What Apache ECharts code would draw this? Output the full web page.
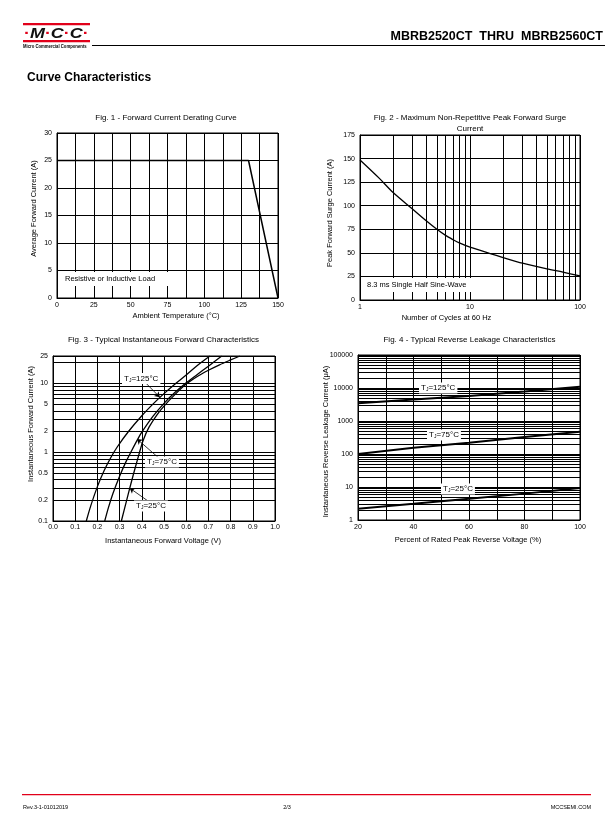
<!DOCTYPE html>
<html><head><meta charset="utf-8">
<script src="https://cdn.jsdelivr.net/npm/echarts@6/dist/echarts.min.js"></script>
<style>html,body{margin:0;padding:0;background:#fff}#c{width:612px;height:825px}</style>
</head><body><div id="c"></div><script>
// ---- Fig. 1 data ----
const fig1Temp = [0, 130, 150];
const fig1Current = [25, 25, 0];
const fig1XLabels = [0, 25, 50, 75, 100, 125, 150];
const fig1YLabels = [0, 5, 10, 15, 20, 25, 30];
// ---- Fig. 2 data ----
const fig2Cycles = [1, 1.5, 2, 3, 4, 5, 6, 7, 8, 10, 15, 20, 30, 50, 70, 100];
const fig2Surge = [148.5, 129, 114, 96.5, 84, 75, 68.5, 64, 60.5, 56, 49.5, 45, 39, 33, 29.5, 25.5];
const fig2XLabels = [1, 10, 100];
const fig2YLabels = [0, 25, 50, 75, 100, 125, 150, 175];
// ---- Fig. 3 data ----
const fig3V125 = [0.15, 0.17, 0.2, 0.23, 0.26, 0.29, 0.34, 0.4, 0.45, 0.5, 0.55, 0.6, 0.65, 0.707];
const fig3I125 = [0.1, 0.166, 0.316, 0.537, 0.83, 1.2, 2.0, 3.39, 5.0, 7.1, 9.8, 13.2, 18.2, 25];
const fig3V75 = [0.233, 0.25, 0.27, 0.3, 0.33, 0.354, 0.38, 0.4, 0.45, 0.5, 0.55, 0.6, 0.65, 0.7, 0.76];
const fig3I75 = [0.1, 0.158, 0.251, 0.447, 0.741, 1.05, 1.51, 1.95, 3.31, 5.13, 7.41, 10.2, 13.5, 17.8, 25];
const fig3V25 = [0.308, 0.33, 0.35, 0.37, 0.39, 0.406, 0.432, 0.47, 0.5, 0.55, 0.6, 0.65, 0.7, 0.75, 0.8, 0.842];
const fig3I25 = [0.1, 0.19, 0.339, 0.589, 1.0, 1.48, 2.29, 3.55, 4.68, 6.92, 9.77, 12.6, 15.5, 18.6, 21.9, 25];
const fig3XLabels = [0.0, 0.1, 0.2, 0.3, 0.4, 0.5, 0.6, 0.7, 0.8, 0.9, 1.0];
const fig3YLabels = [0.1, 0.2, 0.5, 1, 2, 5, 10, 25];
// ---- Fig. 4 data ----
const fig4Pct = [20, 40, 60, 80, 100];
const fig4I125 = [3430, 4500, 5700, 7800, 11000];
const fig4I75 = [100, 155, 220, 330, 475];
const fig4I25 = [2.2, 3.1, 4.4, 6.3, 9.4];
const fig4XLabels = [20, 40, 60, 80, 100];
const fig4YLabels = [1, 10, 100, 1000, 10000, 100000];

const FONT = 'Liberation Sans, Arial, sans-serif';
const zip = (xs, ys) => xs.map((x, i) => [x, ys[i]]);
function logGrid(min, max) {
  const out = [];
  for (let k = Math.floor(Math.log10(min)); Math.pow(10, k) <= max; k++) {
    for (let m = 1; m <= 9; m++) {
      const v = parseFloat((m * Math.pow(10, k)).toPrecision(6));
      if (v >= min * 0.9999 && v <= max * 1.0001) out.push(v);
    }
  }
  if (out[out.length - 1] !== max) out.push(max);
  return out;
}
const fmtNum = v => String(parseFloat(Number(v).toPrecision(6)));
const black = { color: '#000', width: 1 };

function baseAxis(gi, extra) {
  return Object.assign({
    gridIndex: gi,
    axisLine: { show: true, onZero: false, lineStyle: black },
    axisTick: { show: false },
    splitLine: { show: true, lineStyle: black },
    axisLabel: { color: '#000', fontSize: 7, fontFamily: FONT, margin: 4 }
  }, extra);
}
function labelsOnly(list) {
  return v => (list.some(l => Math.abs(l - v) < 1e-9) ? fmtNum(v) : '');
}

const grids = [
  { left: 57, top: 133, width: 221, height: 165 },
  { left: 360, top: 135, width: 220, height: 165 },
  { left: 53, top: 356, width: 222, height: 165 },
  { left: 358, top: 355, width: 222, height: 165 }
].map(g => Object.assign(g, { show: true, borderColor: '#000', borderWidth: 1, containLabel: false, outerBoundsMode: 'none' }));

const xAxes = [
  baseAxis(0, { type: 'value', min: 0, max: 150, interval: 12.5,
    axisLabel: { color: '#000', fontSize: 7, fontFamily: FONT, margin: 4, formatter: labelsOnly(fig1XLabels) } }),
  baseAxis(1, { type: 'log', logBase: 10, min: 1, max: 100,
    axisTick: { show: false, customValues: logGrid(1, 100) },
    axisLabel: { color: '#000', fontSize: 7, fontFamily: FONT, margin: 4, customValues: fig2XLabels, formatter: fmtNum } }),
  baseAxis(2, { type: 'value', min: 0, max: 1, interval: 0.1,
    axisLabel: { color: '#000', fontSize: 7, fontFamily: FONT, margin: 3, formatter: v => Number(v).toFixed(1) } }),
  baseAxis(3, { type: 'value', min: 20, max: 100, interval: 10,
    axisLabel: { color: '#000', fontSize: 7, fontFamily: FONT, margin: 4, formatter: labelsOnly(fig4XLabels) } })
];
const yAxes = [
  baseAxis(0, { type: 'value', min: 0, max: 30, interval: 5,
    axisLabel: { color: '#000', fontSize: 7, fontFamily: FONT, margin: 5, formatter: labelsOnly(fig1YLabels) } }),
  baseAxis(1, { type: 'value', min: 0, max: 175, interval: 25,
    axisLabel: { color: '#000', fontSize: 7, fontFamily: FONT, margin: 5, formatter: labelsOnly(fig2YLabels) } }),
  baseAxis(2, { type: 'log', logBase: 10, min: 0.1, max: 25,
    axisTick: { show: false, customValues: logGrid(0.1, 25) },
    axisLabel: { color: '#000', fontSize: 7, fontFamily: FONT, margin: 5, customValues: fig3YLabels, formatter: fmtNum } }),
  baseAxis(3, { type: 'log', logBase: 10, min: 1, max: 100000,
    axisTick: { show: false, customValues: logGrid(1, 100000) },
    axisLabel: { color: '#000', fontSize: 7, fontFamily: FONT, margin: 5, customValues: fig4YLabels, formatter: fmtNum } })
];

function line(gi, data, width, smooth, extra) {
  return Object.assign({ type: 'line', xAxisIndex: gi, yAxisIndex: gi, data: data, symbol: 'none',
    smooth: smooth, silent: true, animation: false, z: 5,
    lineStyle: { color: '#000', width: width } }, extra || {});
}

const arrows = {
  silent: true, animation: false, symbol: ['none', 'arrow'], symbolSize: 5,
  label: { show: false }, lineStyle: { color: '#000', width: 0.8, type: 'solid' },
  emphasis: { disabled: true },
  data: [
    [{ coord: [0.421, 9.9] }, { coord: [0.481, 6.3] }],
    [{ coord: [0.481, 0.8] }, { coord: [0.379, 1.55] }],
    [{ coord: [0.436, 0.187] }, { coord: [0.346, 0.3] }]
  ]
};

const series = [
  line(0, zip(fig1Temp, fig1Current), 1.5, false),
  line(1, zip(fig2Cycles, fig2Surge), 1.3, 0.3),
  line(2, zip(fig3V125, fig3I125), 1.3, 0.3, { markLine: arrows }),
  line(2, zip(fig3V75, fig3I75), 1.3, 0.3),
  line(2, zip(fig3V25, fig3I25), 1.3, 0.3),
  line(3, zip(fig4Pct, fig4I125), 2, false),
  line(3, zip(fig4Pct, fig4I75), 2, false),
  line(3, zip(fig4Pct, fig4I25), 2, false)
];

function txt(x, y, text, o) {
  o = o || {};
  return { type: 'text', x: x, y: y, z: 20, rotation: o.rot || 0, silent: true,
    scaleX: o.sx || 1,
    style: Object.assign({ text: text, fill: '#000', font: (o.w || 'normal') + ' ' + (o.size || 8) + 'px ' + FONT,
      textAlign: o.align || 'center', textVerticalAlign: 'middle' }, o.style || {}) };
}
const tjRich = { s: { fontSize: 5, fontFamily: FONT, lineHeight: 5, verticalAlign: 'bottom', fill: '#000' } };
function tj(x, y, label) {
  return { type: 'text', x: x, y: y, z: 20, silent: true,
    style: { text: 'T{s|J}=' + label, fill: '#000', font: 'normal 8px ' + FONT, lineHeight: 9,
      textAlign: 'left', textVerticalAlign: 'middle', backgroundColor: '#fff', padding: [1, 2, 1, 2], rich: tjRich } };
}
const RED = '#e1001a';
const graphics = [
  // header logo
  { type: 'rect', shape: { x: 23, y: 23, width: 67, height: 2.2 }, style: { fill: RED }, silent: true },
  { type: 'rect', shape: { x: 23, y: 40, width: 67, height: 2.2 }, style: { fill: RED }, silent: true },
  { type: 'text', x: 24, y: 34, silent: true, scaleX: 1.28,
    style: { text: '{d|·}M{d|·}C{d|·}C{d|·}', fill: '#111', font: 'italic bold 14px ' + FONT,
      textAlign: 'left', textVerticalAlign: 'middle',
      rich: { d: { fill: RED, fontSize: 14, fontWeight: 'bold', fontFamily: FONT } } } },
  txt(23, 46.5, 'Micro Commercial Components', { size: 4.6, w: 'bold', align: 'left', sx: 0.92 }),
  { type: 'rect', shape: { x: 92, y: 45, width: 513, height: 1 }, style: { fill: '#000' }, silent: true },
  txt(603, 37, 'MBRB2520CT  THRU  MBRB2560CT', { size: 12.5, w: 'bold', align: 'right' }),
  txt(27, 78, 'Curve Characteristics', { size: 12, w: 'bold', align: 'left' }),
  // titles
  txt(166, 117.5, 'Fig. 1 - Forward Current Derating Curve', { size: 8 }),
  txt(470, 117.5, 'Fig. 2 - Maximum Non-Repetitive Peak Forward Surge', { size: 8 }),
  txt(470, 128.3, 'Current', { size: 8 }),
  txt(163.5, 340, 'Fig. 3 - Typical Instantaneous Forward Characteristics', { size: 8 }),
  txt(469.5, 340, 'Fig. 4 - Typical Reverse Leakage Characteristics', { size: 8 }),
  // axis names
  txt(33.5, 208.5, 'Average Forward Current (A)', { size: 7.5, rot: Math.PI / 2 }),
  txt(176, 316, 'Ambient Temperature (°C)', { size: 7.5 }),
  txt(330, 213, 'Peak Forward Surge Current (A)', { size: 7.5, rot: Math.PI / 2 }),
  txt(446.5, 318, 'Number of Cycles at 60 Hz', { size: 7.5 }),
  txt(30.5, 424, 'Instantaneous Forward Current (A)', { size: 7.5, rot: Math.PI / 2 }),
  txt(163, 540.5, 'Instantaneous Forward Voltage (V)', { size: 7.5 }),
  txt(326, 441.5, 'Instantaneous Reverse Leakage Current (μA)', { size: 7.5, rot: Math.PI / 2 }),
  txt(468, 540, 'Percent of Rated Peak Reverse Voltage (%)', { size: 7.5 }),
  // annotations
  txt(58, 279, 'Resistive or Inductive Load', { size: 7.5, align: 'left',
    style: { backgroundColor: '#fff', padding: [3, 18, 3, 7] } }),
  txt(361, 285, '8.3 ms Single Half Sine-Wave', { size: 7.5, align: 'left',
    style: { backgroundColor: '#fff', padding: [3, 5, 3, 6] } }),
  tj(122, 378.5, '125°C'),
  tj(145, 462, '75°C'),
  tj(134, 506, '25°C'),
  tj(419, 388, '125°C'),
  tj(427, 435, '75°C'),
  tj(441, 489, '25°C'),
  // footer
  { type: 'rect', shape: { x: 22, y: 794, width: 569, height: 1.2 }, style: { fill: RED }, silent: true },
  txt(23, 807, 'Rev.3-1-01012019', { size: 5.5, align: 'left' }),
  txt(287, 807, '2/3', { size: 5.5 }),
  txt(591, 807, 'MCCSEMI.COM', { size: 5.5, align: 'right' })
];

const chart = echarts.init(document.getElementById('c'), null, { renderer: 'canvas', width: 612, height: 825 });
chart.setOption({
  backgroundColor: '#fff',
  animation: false,
  grid: grids,
  xAxis: xAxes,
  yAxis: yAxes,
  series: series,
  graphic: { elements: graphics }
});
</script></body></html>
